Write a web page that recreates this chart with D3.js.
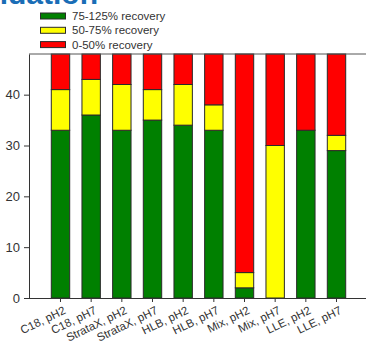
<!DOCTYPE html>
<html><head><meta charset="utf-8">
<script src="https://cdn.jsdelivr.net/npm/d3@7"></script>
<style>body{margin:0;background:#fff;overflow:hidden}svg{display:block}</style>
</head><body>
<svg id="c" width="366" height="347"></svg>
<script>
const categories = ["C18, pH2","C18, pH7","StrataX, pH2","StrataX, pH7","HLB, pH2","HLB, pH7","Mix, pH2","Mix, pH7","LLE, pH2","LLE, pH7"];
const recovery75to125 = [33,36,33,35,34,33,2,0,33,29];
const recovery50to75  = [8,7,9,6,8,5,3,30,0,3];
const recovery0to50   = [7,5,6,7,6,10,43,18,15,16];
const seriesNames = ["75-125% recovery","50-75% recovery","0-50% recovery"];
const seriesColors = ["#008000","#ffff00","#ff0000"];
const yTicks = [0,10,20,30,40];

const svg = d3.select("#c");
const x = d3.scaleBand().domain(categories).range([29,368]).paddingInner(0.4).paddingOuter(0.727);
const y = d3.scaleLinear().domain([0,48]).range([298,54]);

// title fragment (cropped at the top, as in the reference)
svg.append("text").attr("x",98).attr("y",3.5).attr("text-anchor","end")
  .attr("font-family","Liberation Sans, Arial, sans-serif").attr("font-weight","bold")
  .attr("font-size",30).attr("fill","#1a6db6").text("Validation");

const rows = categories.map((c,i)=>({cat:c, a:recovery75to125[i], b:recovery50to75[i], c:recovery0to50[i]}));
const stack = d3.stack().keys(["a","b","c"])(rows);

svg.append("g").selectAll("g").data(stack).join("g")
  .attr("fill",(d,i)=>seriesColors[i])
  .selectAll("rect").data(d=>d.filter(p=>p[1]-p[0]>0)).join("rect")
  .attr("x",d=>x(d.data.cat)).attr("width",x.bandwidth())
  .attr("y",d=>y(d[1])).attr("height",d=>y(d[0])-y(d[1]))
  .attr("stroke","#2a2a2a").attr("stroke-width",1);

// frame top line
svg.append("line").attr("x1",29).attr("x2",366).attr("y1",y(48)).attr("y2",y(48))
  .attr("stroke","#555").attr("stroke-width",1);

const yAxis = svg.append("g").attr("transform","translate(29,0)")
  .call(d3.axisLeft(y).tickValues(yTicks).tickSize(5).tickSizeOuter(0).tickPadding(4));
yAxis.select(".domain").attr("stroke","#333");
yAxis.selectAll("line").attr("stroke","#333");
yAxis.selectAll("text").attr("font-family","Liberation Sans, Arial, sans-serif").attr("font-size",13).attr("fill","#333");

const xAxis = svg.append("g").attr("transform","translate(0,298)")
  .call(d3.axisBottom(x).tickSize(4).tickSizeOuter(0));
xAxis.select(".domain").attr("d","M24,0.5H366").attr("stroke","#333");
xAxis.selectAll("line").attr("stroke","#333");
xAxis.selectAll("text").attr("font-family","Liberation Sans, Arial, sans-serif").attr("font-size",11.5).attr("fill","#333")
  .attr("text-anchor","end").attr("dy",null).attr("y",null)
  .attr("transform","translate(6,15) rotate(-26)");

// legend
const lg = svg.append("g");
seriesNames.forEach((n,i)=>{
  const cy = 16 + i*14.3;
  lg.append("rect").attr("x",40.5).attr("y",cy-3).attr("width",25).attr("height",6)
    .attr("fill",seriesColors[i]).attr("stroke","#2a2a2a");
  lg.append("text").attr("x",72).attr("y",cy).attr("dy","0.35em")
    .attr("font-family","Liberation Sans, Arial, sans-serif").attr("font-size",11.5).attr("fill","#333").text(n);
});
</script>
</body></html>
